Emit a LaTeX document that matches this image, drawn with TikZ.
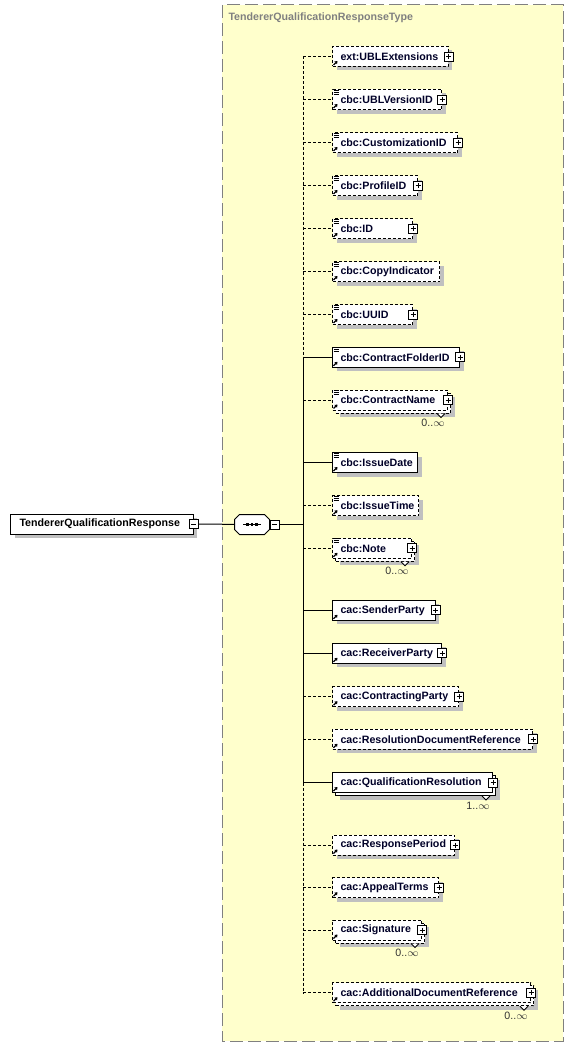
\documentclass[tikz,border=0pt]{standalone}
\usepackage{fontspec}
\setmainfont{Liberation Sans}
\usetikzlibrary{shadows,arrows.meta}
\newlength\px \setlength\px{0.75pt}
\definecolor{typefill}{RGB}{255,255,204}
\definecolor{typeline}{RGB}{128,128,128}
\definecolor{shadowgrey}{RGB}{192,192,192}
\definecolor{elemtext}{RGB}{0,0,40}
\tikzset{
  elembase/.style={draw, fill=white, anchor=west, minimum height=20\px, inner sep=0pt,
    font=\fontsize{8}{9}\selectfont\bfseries, text=elemtext},
  boxshadow/.style={drop shadow={shadow xshift=4\px, shadow yshift=-4\px, fill=shadowgrey, opacity=1}},
  opt/.style={dash pattern=on 3\px off 2\px},
  signbox/.style={draw, fill=white, minimum size=9\px, inner sep=0pt, line width=0.6pt},
  minusbox/.style={signbox, path picture={
    \draw ([xshift=2\px]path picture bounding box.west) -- ([xshift=-2\px]path picture bounding box.east);}},
  plusbox/.style={signbox, path picture={
    \draw ([xshift=2\px]path picture bounding box.west) -- ([xshift=-2\px]path picture bounding box.east);
    \draw ([yshift=-2\px]path picture bounding box.north) -- ([yshift=2\px]path picture bounding box.south);}},
  seqbox/.style={minimum width=34\px, minimum height=19\px, inner sep=0pt},
  typetitle/.style={anchor=west, inner sep=0pt, text=typeline,
    font=\fontsize{8}{9}\selectfont\bfseries},
  multlabel/.style={inner sep=0pt, text=black!80, font=\fontsize{8}{9}\selectfont}
}
% child element: [style](name)(y:width)text;
\def\child[#1](#2)(#3:#4)#5;{%
  \node[elembase,#1] (#2) at (332,#3) {\makebox[#4\px][l]{\hspace*{8\px}#5}};
  \draw[-{Triangle[length=1.9pt,width=2.6pt]},line width=0.9pt]
    ([xshift=1.5\px,yshift=2\px]#2.south west) -- ++(4\px,4\px);
}
% second box behind a repeated element: [style](name)(y:width);
\def\stack[#1](#2)(#3:#4);{%
  \node[elembase,boxshadow,#1] (#2-b) at (335,#3+3) {\makebox[#4\px]{}};
}
\def\many(#1)#2;{%
  \draw[fill=white,line width=0.6pt] ([xshift=-14\px]#1-b.south east) -- ++(4\px,-4\px) -- ++(4\px,4\px);
  \node[multlabel] (#1-n) at ([xshift=-15\px,yshift=-23\px]#1.east) {#2};
}
\def\simple(#1);{%
  \foreach \k in {1,3,5}
    \draw[line width=0.7pt] ([xshift=1.5\px,yshift=-\k\px]#1.north west) -- ++(5\px,0);
}
\def\more(#1);{\node[plusbox] (#1-p) at (#1.east) {};}
% octagon round a node
\def\octagon(#1){([xshift=5\px]#1.north west) -- ([xshift=-5\px]#1.north east)
  -- ([yshift=-5\px]#1.north east) -- ([yshift=5\px]#1.south east)
  -- ([xshift=-5\px]#1.south east) -- ([xshift=5\px]#1.south west)
  -- ([yshift=5\px]#1.south west) -- ([yshift=-5\px]#1.north west) -- cycle}

\begin{document}
\begin{tikzpicture}[x=0.75pt,y=-0.75pt,line width=0.75pt]
  %%%%% TYPE FRAME %%%%%
  \useasboundingbox (0,0) rectangle (576,1049);
  \draw[typeline, fill=typefill, dash pattern=on 13\px off 5\px] (222,5) rectangle (563,1041);
  \node[typetitle] (typename) at (228,18) {TendererQualificationResponseType};

  %%%%% ROOT AND SEQUENCE %%%%%
  \node[elembase, boxshadow, text=black] (root) at (10,524) {\makebox[182.7\px][l]{\hspace*{9\px}TendererQualificationResponse}};
  \node[minusbox] (root-m) at (root.east) {};
  \node[seqbox] (seq) at (252,524.5) {};
  \fill[shadowgrey, shift={(3pt,-3pt)}] \octagon(seq);
  \draw[fill=white] \octagon(seq);
  \draw ([xshift=-9\px]seq.center) -- ([xshift=9\px]seq.center);
  \foreach \d in {-4.5,0,4.5}
    \fill ([xshift=\d\px]seq.center) +(-1.4\px,-1.4\px) rectangle +(1.4\px,1.4\px);
  \node[minusbox, anchor=west] (seq-m) at (seq.east) {};
  \coordinate (spine) at (303,524.5);
  \draw (root-m) -- (seq);
  \draw (seq-m) -- (spine);

  %%%%% CHILDREN %%%%%
  \child[boxshadow,opt](e1)(56.5:115.5)ext:UBLExtensions; \more(e1);
  \child[boxshadow,opt](e2)(99.5:109)cbc:UBLVersionID; \simple(e2); \more(e2);
  \child[boxshadow,opt](e3)(142.5:125)cbc:CustomizationID; \simple(e3); \more(e3);
  \child[boxshadow,opt](e4)(185.5:85)cbc:ProfileID; \simple(e4); \more(e4);
  \child[boxshadow,opt](e5)(228.5:80)cbc:ID; \simple(e5); \more(e5);
  \child[boxshadow,opt](e6)(271.5:107)cbc:CopyIndicator; \simple(e6);
  \child[boxshadow,opt](e7)(314.5:80)cbc:UUID; \simple(e7); \more(e7);
  \child[boxshadow](e8)(357.3:127)cbc:ContractFolderID; \simple(e8); \more(e8);
  \stack[opt](e9)(400:115);
  \child[opt](e9)(400:115)cbc:ContractName; \simple(e9); \more(e9); \many(e9)0..$\infty$;
  \child[boxshadow](e10)(462.5:85)cbc:IssueDate; \simple(e10);
  \child[boxshadow,opt](e11)(505.7:86)cbc:IssueTime; \simple(e11);
  \stack[opt](e12)(548.3:79);
  \child[opt](e12)(548.3:79)cbc:Note; \simple(e12); \more(e12); \many(e12)0..$\infty$;
  \child[boxshadow](e13)(610.3:102.5)cac:SenderParty; \more(e13);
  \child[boxshadow](e14)(653.3:109)cac:ReceiverParty; \more(e14);
  \child[boxshadow,opt](e15)(696.7:126)cac:ContractingParty; \more(e15);
  \child[boxshadow,opt](e16)(739.3:200)cac:ResolutionDocumentReference; \more(e16);
  \stack[](e17)(782.5:160);
  \child[](e17)(782.5:160)cac:QualificationResolution; \more(e17); \many(e17)1..$\infty$;
  \child[boxshadow,opt](e18)(845:122)cac:ResponsePeriod; \more(e18);
  \child[boxshadow,opt](e19)(887.7:106)cac:AppealTerms; \more(e19);
  \stack[opt](e20)(930:89);
  \child[opt](e20)(930:89)cac:Signature; \more(e20); \many(e20)0..$\infty$;
  \stack[opt](e21)(992.7:198);
  \child[opt](e21)(992.7:198)cac:AdditionalDocumentReference; \more(e21); \many(e21)0..$\infty$;

  %%%%% CONNECTORS %%%%%
  \draw[opt] (spine |- e1.west) -- (spine |- e8.west);
  \draw (spine |- e8.west) -- (spine |- e17.west);
  \draw[opt] (spine |- e17.west) -- (spine |- e21.west);
  \foreach \e in {e1,e2,e3,e4,e5,e6,e7,e9,e11,e12,e15,e16,e18,e19,e20,e21}
    \draw[opt] (spine |- \e.west) -- (\e.west);
  \foreach \e in {e8,e10,e13,e14,e17}
    \draw (spine |- \e.west) -- (\e.west);
\end{tikzpicture}
\end{document}
